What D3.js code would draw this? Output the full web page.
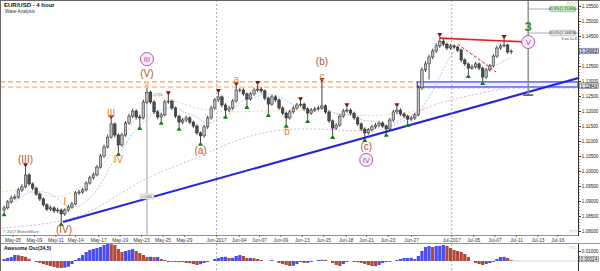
<!DOCTYPE html>
<style>
body {
  margin: 0;
  font-family: 'Liberation Sans', Arial, sans-serif;
  background: #fff;
}
svg { display: block; }
.axis text { fill: #222; }
.axis line { stroke: #333; }
</style>
<svg width="600" height="271"></svg>
<script src="https://d3js.org/d3.v7.min.js"></script>
<script>
// ---- data (4h EUR/USD, grouped 3 bars per trading day) ----
var firstOpen = 1.0870;
var closes = [1.0877,1.0897,1.0910,1.0913,1.0937,1.0947,1.0987,1.0957,1.0943,1.0923,
  1.0907,1.0887,1.0873,1.0877,1.0867,1.0870,1.0857,1.0870,1.0880,1.0890,
  1.0927,1.0930,1.0937,1.0960,1.0977,1.0987,1.1013,1.1050,1.1080,1.1113,
  1.1157,1.1120,1.1087,1.1120,1.1160,1.1183,1.1200,1.1180,1.1177,1.1230,
  1.1263,1.1230,1.1197,1.1180,1.1187,1.1230,1.1233,1.1210,1.1183,1.1163,
  1.1170,1.1177,1.1163,1.1150,1.1127,1.1117,1.1147,1.1177,1.1210,1.1237,
  1.1247,1.1220,1.1203,1.1210,1.1233,1.1270,1.1270,1.1257,1.1240,1.1257,
  1.1270,1.1273,1.1267,1.1243,1.1223,1.1247,1.1237,1.1210,1.1193,1.1177,
  1.1197,1.1210,1.1220,1.1223,1.1207,1.1193,1.1203,1.1207,1.1210,1.1217,
  1.1197,1.1167,1.1143,1.1153,1.1183,1.1200,1.1203,1.1193,1.1177,1.1157,
  1.1140,1.1127,1.1137,1.1147,1.1153,1.1160,1.1150,1.1140,1.1170,1.1197,
  1.1203,1.1190,1.1183,1.1173,1.1177,1.1187,1.1277,1.1337,1.1357,1.1380,
  1.1400,1.1417,1.1433,1.1423,1.1410,1.1417,1.1413,1.1403,1.1370,1.1357,
  1.1343,1.1347,1.1357,1.1343,1.1313,1.1337,1.1350,1.1383,1.1410,1.1417,
  1.1420,1.1397,1.1400];
var highs = [1.0885,1.0903,1.0918,1.0922,1.0944,1.0956,1.1013,1.0993,1.0962,1.0948,
  1.0928,1.0912,1.0893,1.0885,1.0883,1.0878,1.0875,1.0876,1.0887,1.0897,
  1.0933,1.0938,1.0944,1.0966,1.0984,1.0995,1.1020,1.1057,1.1088,1.1122,
  1.1173,1.1162,1.1125,1.1127,1.1167,1.1191,1.1208,1.1206,1.1188,1.1238,
  1.1277,1.1268,1.1236,1.1203,1.1195,1.1238,1.1253,1.1238,1.1215,1.1188,
  1.1178,1.1185,1.1183,1.1168,1.1155,1.1132,1.1154,1.1184,1.1218,1.1244,
  1.1260,1.1252,1.1226,1.1218,1.1240,1.1283,1.1278,1.1276,1.1262,1.1264,
  1.1278,1.1287,1.1280,1.1272,1.1248,1.1254,1.1253,1.1242,1.1216,1.1198,
  1.1204,1.1217,1.1227,1.1233,1.1228,1.1212,1.1210,1.1214,1.1218,1.1297,
  1.1222,1.1202,1.1172,1.1160,1.1190,1.1207,1.1213,1.1209,1.1198,1.1182,
  1.1162,1.1146,1.1144,1.1154,1.1160,1.1167,1.1166,1.1155,1.1177,1.1204,
  1.1213,1.1209,1.1196,1.1188,1.1184,1.1194,1.1285,1.1345,1.1366,1.1388,
  1.1408,1.1426,1.1447,1.1440,1.1428,1.1424,1.1422,1.1418,1.1408,1.1376,
  1.1362,1.1355,1.1364,1.1362,1.1348,1.1344,1.1357,1.1390,1.1418,1.1425,
  1.1440,1.1425,1.1405];
var lows = [1.0862,1.0872,1.0892,1.0904,1.0908,1.0930,1.0942,1.0950,1.0936,1.0917,
  1.0900,1.0881,1.0866,1.0866,1.0860,1.0860,1.0830,1.0850,1.0864,1.0874,
  1.0886,1.0920,1.0924,1.0932,1.0954,1.0971,1.0982,1.1008,1.1044,1.1075,
  1.1108,1.1112,1.1063,1.1080,1.1114,1.1154,1.1176,1.1172,1.1150,1.1172,
  1.1224,1.1222,1.1190,1.1172,1.1167,1.1182,1.1224,1.1203,1.1176,1.1147,
  1.1156,1.1163,1.1156,1.1143,1.1120,1.1097,1.1111,1.1140,1.1171,1.1204,
  1.1230,1.1212,1.1187,1.1196,1.1204,1.1228,1.1262,1.1250,1.1220,1.1234,
  1.1251,1.1264,1.1259,1.1236,1.1193,1.1217,1.1230,1.1203,1.1186,1.1157,
  1.1171,1.1191,1.1204,1.1214,1.1200,1.1173,1.1187,1.1197,1.1201,1.1204,
  1.1190,1.1160,1.1120,1.1137,1.1147,1.1177,1.1194,1.1186,1.1170,1.1150,
  1.1133,1.1110,1.1121,1.1131,1.1141,1.1147,1.1143,1.1127,1.1134,1.1164,
  1.1190,1.1183,1.1176,1.1160,1.1166,1.1170,1.1182,1.1270,1.1330,1.1305,
  1.1373,1.1393,1.1410,1.1416,1.1403,1.1404,1.1406,1.1396,1.1362,1.1350,
  1.1323,1.1337,1.1341,1.1336,1.1300,1.1307,1.1331,1.1345,1.1377,1.1404,
  1.1412,1.1390,1.1390];

// Awesome Oscillator (34,5), same bars
var aoValues = [0.0020,0.0030,0.0040,0.0060,0.0058,0.0050,0.0042,0.0022,0.0000,-0.0010,
  -0.0020,-0.0030,-0.0040,-0.0050,-0.0060,-0.0068,-0.0070,-0.0066,-0.0058,-0.0030,
  0.0010,0.0030,0.0060,0.0090,0.0110,0.0120,0.0130,0.0140,0.0160,0.0170,
  0.0168,0.0160,0.0120,0.0090,0.0100,0.0110,0.0120,0.0100,0.0080,0.0060,
  0.0040,0.0042,0.0038,0.0040,0.0020,0.0010,-0.0010,-0.0008,-0.0010,-0.0012,
  -0.0010,-0.0020,-0.0022,-0.0030,-0.0040,-0.0032,-0.0020,-0.0010,0.0000,0.0020,
  0.0030,0.0040,0.0042,0.0030,0.0032,0.0050,0.0060,0.0050,0.0030,0.0030,
  0.0028,0.0020,0.0010,0.0000,0.0002,0.0010,0.0000,-0.0020,-0.0030,-0.0040,
  -0.0050,-0.0048,-0.0030,-0.0010,-0.0020,-0.0018,-0.0010,0.0000,0.0010,0.0012,
  0.0010,0.0000,-0.0020,-0.0040,-0.0050,-0.0030,-0.0010,0.0000,-0.0010,-0.0012,
  -0.0020,-0.0030,-0.0040,-0.0050,-0.0052,-0.0040,-0.0020,-0.0010,-0.0008,0.0000,
  0.0010,0.0020,0.0030,0.0030,0.0032,0.0020,0.0050,0.0100,0.0140,0.0150,
  0.0140,0.0150,0.0152,0.0160,0.0150,0.0130,0.0110,0.0100,0.0090,0.0070,
  0.0040,0.0000,-0.0020,-0.0030,-0.0040,-0.0030,-0.0020,-0.0010,0.0020,0.0040,
  0.0042,0.0030,0.0008];

// slow (pink) and medium (orange) moving averages, read as points
var slowMaBar = [-0.6, 7.2, 14.8, 22.1, 29.7, 36.1, 40, 46.5, 54.9, 64.1, 73.6, 83, 92.1, 101.6, 110.9, 120.1, 126.3, 133.3, 142.3];
var slowMaVal = [1.0810, 1.0817, 1.0830, 1.0850, 1.0903, 1.0950, 1.0977, 1.1010, 1.1047, 1.1100, 1.1133, 1.1143, 1.1137, 1.1130, 1.1167, 1.1223, 1.1240, 1.1260, 1.1280];
var midMaBar = [-0.6, 7.3, 16.5, 26.9, 34.4, 40.0, 41.4, 49.3, 57.7, 71.7, 82.9, 94.1, 101.6, 115.7, 117.9];
var midMaVal = [1.0930, 1.0943, 1.0890, 1.1003, 1.1127, 1.1237, 1.1257, 1.1227, 1.1193, 1.1200, 1.1203, 1.1193, 1.1180, 1.1197, 1.1210];
var fastMaLength = 10;

// fractal markers (bar indexes)
var fractalHighBars = [6, 30, 46, 60, 65, 71, 83, 89, 96, 110, 122, 140];
var fractalLowBars = [0, 16, 32, 38, 44, 49, 55, 62, 68, 74, 79, 85, 92, 101, 107, 113, 130, 134];

// wave labels
var waveText  = ["(III)", "III", "IV", "I", "(IV)", "(V)", "III", "V", "(a)", "a", "b", "(b)", "c", "(c)", "IV", "3", "V"];
var waveBar   = [6, 30, 32, 17, 16.8, 40, 40, 40, 55, 65, 79.2, 89, 89, 101.4, 101.4, 146.75, 146.75];
var wavePrice = [1.1040, 1.1193, 1.1040, 1.0900, 1.0805, 1.1327, 1.1373, 1.1290, 1.1070, 1.1307, 1.1133, 1.1367, 1.1317, 1.1083, 1.1037, 1.1482, 1.1430];
var waveKind  = ["brown", "orange", "orange", "orange", "brown", "brown", "circle", "small", "brown", "orange", "orange", "brown", "orange", "brown", "circle", "green", "circle"];

// axis labels
var priceTicks = [1.080, 1.085, 1.090, 1.095, 1.100, 1.105, 1.110, 1.115, 1.120, 1.125, 1.130, 1.135, 1.140, 1.145, 1.150, 1.155];
var aoTicks = [0.01];
var dateLabels = ["May-05", "May-09", "May-11", "May-14", "May-17", "May-19", "May-23", "May-25", "May-29", "Jun-2017", "Jun-04", "Jun-07", "Jun-09",
  "Jun-13", "Jun-15", "Jun-18", "Jun-21", "Jun-23", "Jun-27", "Jul-2017", "Jul-05", "Jul-07", "Jul-11", "Jul-13", "Jul-16"];
var dateDays = [0, 2, 4, 5.85, 8, 10, 12, 14, 16, 19, 21.1, 23, 25, 27, 29, 31.1, 33, 35, 37.2, 40.95, 43, 45, 47, 49, 50.85];
var monthDays = [19, 40.95];

// levels and tools
var resistLevels = [1.1297, 1.1280];
var zoneStartBar = 115.7;
var trendBars = [16.5, 160.8], trendPrices = [1.0830, 1.1310];
var redBars = [122, 146.75], redPrices = [1.1443, 1.1430];
var redDashBars = [127, 137.8], redDashPrices = [1.1423, 1.1330];
var targetBar = 146.75, targetLow = 1.1253;
var fibPrices = [1.1540, 1.1460], fibText = ["61.8%(1.15486)", "50.0%(1.14658)"];

// ---- layout ----
var svg = d3.select("svg"),
    plotR = 578, plotB = 235, aoTop = 244, H = 271;

var dayX = d3.scaleLinear().domain([0, 49]).range([13, 538]);
function barX(i) { return dayX(-1 + (i + 0.5) / 3); }
var y = d3.scaleLinear().domain([1.08, 1.155]).range([231, 6]);
var yAo = d3.scaleLinear().domain([-0.01, 0.017]).range([271, 244]);

var defs = svg.append("defs");
defs.append("clipPath").attr("id", "mainclip").append("rect")
    .attr("x", 1).attr("y", 0).attr("width", plotR - 1).attr("height", plotB);
defs.append("clipPath").attr("id", "aoclip").append("rect")
    .attr("x", 1).attr("y", aoTop).attr("width", plotR - 1).attr("height", H - aoTop);

var g = svg.append("g").attr("clip-path", "url(#mainclip)");

// month separators
monthDays.forEach(function(d) {
  [[0, plotB], [aoTop, H]].forEach(function(r) {
    svg.append("line")
        .attr("x1", dayX(d)).attr("x2", dayX(d)).attr("y1", r[0]).attr("y2", r[1])
        .attr("stroke", "#999").attr("stroke-width", 0.8).attr("stroke-dasharray", "2,2");
  });
});

// orange dashed resistance
resistLevels.forEach(function(p) {
  g.append("line")
      .attr("x1", 0).attr("x2", barX(zoneStartBar)).attr("y1", y(p)).attr("y2", y(p))
      .attr("stroke", "#f5a263").attr("stroke-width", 1.2).attr("stroke-dasharray", "5,3");
});

// blue zone
g.append("rect")
    .attr("x", barX(zoneStartBar)).attr("y", y(resistLevels[0]))
    .attr("width", plotR - barX(zoneStartBar)).attr("height", y(resistLevels[1]) - y(resistLevels[0]))
    .attr("fill", "#eef0ff").attr("stroke", "#3a3af0").attr("stroke-width", 1.2);
g.append("line")
    .attr("x1", barX(zoneStartBar)).attr("x2", plotR).attr("y1", y(resistLevels[1]) + 1).attr("y2", y(resistLevels[1]) + 1)
    .attr("stroke", "#b080c8").attr("stroke-width", 0.7).attr("stroke-dasharray", "3,2");

// moving averages
var maLine = d3.line().curve(d3.curveBasis)
    .x(function(d) { return barX(d[0]); }).y(function(d) { return y(d[1]); });
g.append("path")
    .attr("d", maLine(slowMaBar.map(function(b, i) { return [b, slowMaVal[i]]; })))
    .attr("fill", "none").attr("stroke", "#d9a6dc").attr("stroke-width", 0.9).attr("stroke-dasharray", "2,2");
g.append("path")
    .attr("d", maLine(midMaBar.map(function(b, i) { return [b, midMaVal[i]]; })))
    .attr("fill", "none").attr("stroke", "#f8c898").attr("stroke-width", 0.9).attr("stroke-dasharray", "2,2");

var fastMa = closes.map(function(c, i) {
  return [i, d3.mean(closes.slice(Math.max(0, i - fastMaLength + 1), i + 1))];
});
g.append("path")
    .attr("d", maLine(fastMa))
    .attr("fill", "none").attr("stroke", "#9ec0f5").attr("stroke-width", 0.9).attr("stroke-dasharray", "2,1.5");

// blue trend line
g.append("line")
    .attr("x1", barX(trendBars[0])).attr("y1", y(trendPrices[0]))
    .attr("x2", barX(trendBars[1])).attr("y2", y(trendPrices[1]))
    .attr("stroke", "#2424e6").attr("stroke-width", 2);

// measurement line from the (V) top
g.append("line")
    .attr("x1", barX(40)).attr("x2", barX(40)).attr("y1", y(highs[40]) + 4).attr("y2", plotB)
    .attr("stroke", "#c4c4c4").attr("stroke-width", 1.6);
g.append("text").attr("x", barX(40) + 3).attr("y", y(highs[40]) + 8)
    .attr("font-size", 3.5).attr("fill", "#777").text("1.12766");
g.append("rect").attr("x", barX(40) - 7).attr("y", 194).attr("width", 14).attr("height", 5)
    .attr("fill", "#f4f4f4").attr("stroke", "#aaa").attr("stroke-width", 0.4);
g.append("text").attr("x", barX(40)).attr("y", 197.8).attr("text-anchor", "middle")
    .attr("font-size", 3.5).attr("fill", "#555").text("0.0446");

// candles
var candles = closes.map(function(c, i) {
  return { i: i, o: i ? closes[i - 1] : firstOpen, h: highs[i], l: lows[i], c: c };
});
var cg = g.append("g");
cg.selectAll("line").data(candles).enter().append("line")
    .attr("x1", function(d) { return barX(d.i); }).attr("x2", function(d) { return barX(d.i); })
    .attr("y1", function(d) { return y(d.h); }).attr("y2", function(d) { return y(d.l); })
    .attr("stroke", "#1a1a1a").attr("stroke-width", 0.8);
cg.selectAll("rect").data(candles).enter().append("rect")
    .attr("x", function(d) { return barX(d.i) - 1.25; })
    .attr("width", 2.5)
    .attr("y", function(d) { return y(Math.max(d.o, d.c)); })
    .attr("height", function(d) { return Math.max(0.6, Math.abs(y(d.o) - y(d.c))); })
    .attr("fill", function(d) { return d.c >= d.o ? "#bdbdbd" : "#4e4e4e"; })
    .attr("stroke", "#1a1a1a").attr("stroke-width", 0.5);

// fractals
var tri = d3.symbol().type(d3.symbolTriangle).size(11);
g.selectAll(".fh").data(fractalHighBars).enter().append("path")
    .attr("d", tri)
    .attr("transform", function(b) { return "translate(" + barX(b) + "," + (y(highs[b]) - 2.5) + ") rotate(180)"; })
    .attr("fill", "#7b1515");
g.selectAll(".fl").data(fractalLowBars).enter().append("path")
    .attr("d", tri)
    .attr("transform", function(b) { return "translate(" + barX(b) + "," + (y(lows[b]) + 2.5) + ")"; })
    .attr("fill", "#1c7a1c");

// red lines
g.append("line")
    .attr("x1", barX(redBars[0])).attr("y1", y(redPrices[0]))
    .attr("x2", barX(redBars[1])).attr("y2", y(redPrices[1]))
    .attr("stroke", "#e61e1e").attr("stroke-width", 1.6);
g.append("line")
    .attr("x1", barX(redDashBars[0])).attr("y1", y(redDashPrices[0]))
    .attr("x2", barX(redDashBars[1])).attr("y2", y(redDashPrices[1]))
    .attr("stroke", "#e63030").attr("stroke-width", 1).attr("stroke-dasharray", "3,2");

// target projection
var tx = barX(targetBar);
g.append("line").attr("x1", tx).attr("x2", tx).attr("y1", 0).attr("y2", y(targetLow))
    .attr("stroke", "#888").attr("stroke-width", 1.4);
g.append("line").attr("x1", tx - 5).attr("x2", tx + 5).attr("y1", y(targetLow)).attr("y2", y(targetLow))
    .attr("stroke", "#333").attr("stroke-width", 1.3);
fibPrices.forEach(function(p, k) {
  g.append("line").attr("x1", tx).attr("x2", plotR).attr("y1", y(p)).attr("y2", y(p))
      .attr("stroke", "#999").attr("stroke-width", 0.8);
  g.append("rect").attr("x", 550).attr("y", y(p) - 2.7).attr("width", 25).attr("height", 5.4).attr("rx", 1)
      .attr("fill", k ? "#ececec" : "#c8eec8").attr("stroke", k ? "#999" : "#5a9a5a").attr("stroke-width", 0.5);
  g.append("text").attr("x", 562.5).attr("y", y(p) + 1.4).attr("text-anchor", "middle")
      .attr("font-size", 3.8).attr("fill", "#333").text(fibText[k]);
});
g.append("text").attr("x", 569).attr("y", y(fibPrices[1]) + 7).attr("text-anchor", "middle")
    .attr("font-size", 4).attr("fill", "#222").text("5 vs 1+3");

// wave labels
var colors = { brown: "#b3542a", orange: "#f57c1f", small: "#f57c1f", green: "#2f8f2f", circle: "#a54aa5" };
var sizes = { brown: 10, orange: 10, small: 7, green: 13, circle: 7.5 };
waveText.forEach(function(t, k) {
  var cx = barX(waveBar[k]), cy = y(wavePrice[k]), kind = waveKind[k];
  if (kind === "circle") {
    g.append("circle").attr("cx", cx).attr("cy", cy).attr("r", 6.5)
        .attr("fill", "#faeafa").attr("stroke", colors.circle).attr("stroke-width", 0.9);
  }
  g.append("text").attr("x", cx).attr("y", cy).attr("dy", "0.36em")
      .attr("text-anchor", "middle")
      .attr("font-size", sizes[kind])
      .attr("font-weight", kind === "green" ? "bold" : "normal")
      .attr("fill", colors[kind]).text(t);
});

// ---- Awesome oscillator ----
var ag = svg.append("g").attr("clip-path", "url(#aoclip)");
ag.selectAll("rect").data(aoValues).enter().append("rect")
    .attr("x", function(v, i) { return barX(i) - 1.6; })
    .attr("width", 3.2)
    .attr("y", function(v) { return Math.min(yAo(v), yAo(0)); })
    .attr("height", function(v) { return Math.abs(yAo(v) - yAo(0)); })
    .attr("fill", function(v, i) { return i && v < aoValues[i - 1] ? "#b0483c" : "#4c4cf2"; });
ag.append("line").attr("x1", barX(aoValues.length - 1) + 2).attr("x2", plotR)
    .attr("y1", yAo(0)).attr("y2", yAo(0))
    .attr("stroke", "#888").attr("stroke-width", 0.7).attr("stroke-dasharray", "1,1");

// ---- frames and axes ----
svg.append("line").attr("x1", 0.5).attr("x2", 0.5).attr("y1", 0).attr("y2", H).attr("stroke", "#666");
svg.append("line").attr("x1", 0).attr("x2", 600).attr("y1", 0.5).attr("y2", 0.5).attr("stroke", "#666");
svg.append("line").attr("x1", 0).attr("x2", plotR).attr("y1", plotB + 0.5).attr("y2", plotB + 0.5).attr("stroke", "#777").attr("stroke-width", 0.8);
svg.append("line").attr("x1", 0).attr("x2", 600).attr("y1", aoTop - 0.5).attr("y2", aoTop - 0.5).attr("stroke", "#777").attr("stroke-width", 0.8);
svg.append("line").attr("x1", plotR + 0.5).attr("x2", plotR + 0.5).attr("y1", 0).attr("y2", plotB + 1).attr("stroke", "#333");
svg.append("line").attr("x1", plotR + 0.5).attr("x2", plotR + 0.5).attr("y1", aoTop).attr("y2", H).attr("stroke", "#333");

// price axis
var minorTicks = d3.range(1080, 1156).map(function(k) { return k / 1000; });
svg.append("g").attr("class", "axis").attr("transform", "translate(" + (plotR + 0.5) + ",0)")
    .call(d3.axisRight(y).tickValues(minorTicks).tickSize(1.5).tickFormat(""))
    .call(function(a) { a.select(".domain").remove(); a.selectAll("line").attr("stroke-width", 0.5); });
svg.append("g").attr("class", "axis").attr("transform", "translate(" + (plotR + 0.5) + ",0)")
    .attr("font-family", "'Liberation Sans', Arial, sans-serif")
    .call(d3.axisRight(y).tickValues(priceTicks).tickFormat(d3.format(".5f")).tickSize(2.5).tickPadding(0.8))
    .call(function(a) { a.select(".domain").remove(); a.selectAll("text").attr("font-size", 4.6); });

// axis price flags
[[1.1400, "1.14002", "#c9cfee"], [1.1284, "1.12843", "#e2e2e2"]].forEach(function(f) {
  svg.append("rect").attr("x", plotR + 1.5).attr("y", y(f[0]) - 2.8).attr("width", 19).attr("height", 5.6)
      .attr("fill", f[2]).attr("stroke", "#555").attr("stroke-width", 0.5);
  svg.append("text").attr("x", plotR + 2.6).attr("y", y(f[0]) + 1.7)
      .attr("font-size", 4.6).attr("fill", "#111").text(f[1]);
});

// AO axis
svg.append("g").attr("class", "axis").attr("transform", "translate(" + (plotR + 0.5) + ",0)")
    .attr("font-family", "'Liberation Sans', Arial, sans-serif")
    .call(d3.axisRight(yAo).tickValues(aoTicks).tickFormat(d3.format(".5f")).tickSize(2.5).tickPadding(0.8))
    .call(function(a) { a.select(".domain").remove(); a.selectAll("text").attr("font-size", 4.6); });
svg.append("rect").attr("x", plotR + 1.5).attr("y", 256.2).attr("width", 19).attr("height", 5.6)
    .attr("fill", "#f0f0f0").attr("stroke", "#555").attr("stroke-width", 0.5);
svg.append("text").attr("x", plotR + 2.6).attr("y", 260.7)
    .attr("font-size", 4.6).attr("fill", "#111").text("0.00024");

// date axis
dateDays.forEach(function(d, k) {
  svg.append("line").attr("x1", dayX(d)).attr("x2", dayX(d)).attr("y1", plotB).attr("y2", plotB + 2)
      .attr("stroke", "#333").attr("stroke-width", 0.6);
  svg.append("text").attr("x", dayX(d)).attr("y", 241.5).attr("text-anchor", "middle")
      .attr("font-size", 4.8).attr("fill", "#333").text(dateLabels[k]);
});

// titles and small marks
svg.append("text").attr("x", 4).attr("y", 6.5).attr("font-size", 6).attr("font-weight", "bold")
    .attr("fill", "#111").text("EUR/USD - 4 hour");
svg.append("text").attr("x", 5).attr("y", 12.5).attr("font-size", 4.6)
    .attr("fill", "#333").text("Wave Analysis");
svg.append("text").attr("x", 3).attr("y", 233).attr("font-size", 4)
    .attr("fill", "#555").text("\u00a9 2017 MotiveWave");
svg.append("text").attr("x", 4).attr("y", 249.5).attr("font-size", 5).attr("font-weight", "bold")
    .attr("fill", "#111").text("Awesome Osc(34,5)");
svg.append("text").attr("x", 566).attr("y", 4.5).attr("font-size", 4.5).attr("fill", "#aaa").text("\u25c7\u25c7\u25c7");
svg.append("text").attr("x", 569).attr("y", 233).attr("font-size", 4.5).attr("fill", "#aaa").text("\u25c7\u25c7");
svg.append("text").attr("x", 569).attr("y", 249).attr("font-size", 4.5).attr("fill", "#aaa").text("\u25c7\u25a1");
</script>
